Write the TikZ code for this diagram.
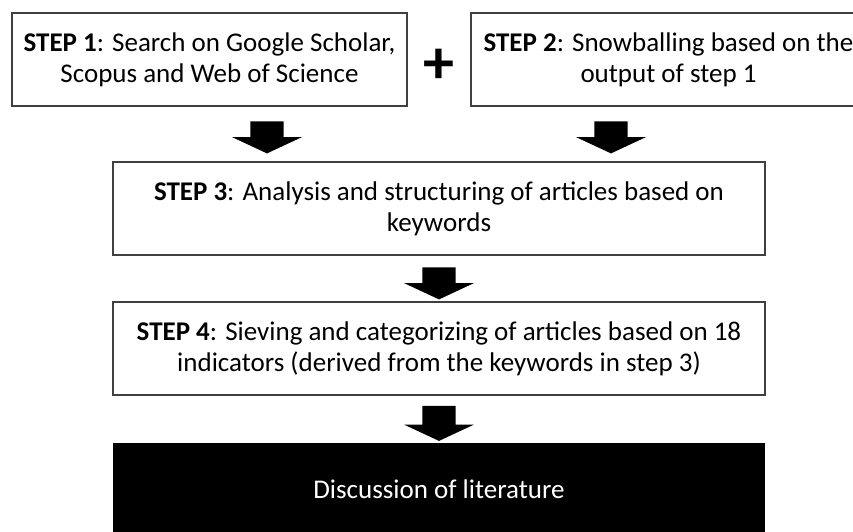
\documentclass[tikz,border=0pt]{standalone}
\usepackage{fontspec}
\setmainfont{Carlito}
\usetikzlibrary{shapes, arrows, positioning}
\tikzstyle{stepbox} = [rectangle, draw=black!75, line width=1.3pt, align=center, minimum width=652pt, minimum height=93pt]
\tikzstyle{sidebox} = [stepbox, minimum width=395pt]
\tikzstyle{result} = [rectangle, fill=black, text=white, align=center, minimum width=652pt, minimum height=93pt]
\tikzstyle{bigarrow} = [single arrow, fill=black, rotate=-90, minimum height=32pt, inner xsep=0pt, inner ysep=16.5pt, single arrow head extend=18pt, single arrow tip angle=130]

\begin{document}
\begin{tikzpicture}[x=1pt, y=1pt, node distance=140pt, font=\fontsize{27}{31}\selectfont]
    \useasboundingbox (-439,-322.5) rectangle (414,208.5);
    \clip (-439,-322.5) rectangle (414,208.5);

    \node [stepbox] (step3) at (0,0) {\textbf{STEP 3}: Analysis and structuring of articles based on\\ keywords};
    \node [sidebox] (step1) at (-229.5,149) {\textbf{STEP 1}: Search on Google Scholar,\\ Scopus and Web of Science};
    \node [sidebox] (step2) at (229.5,149) {\textbf{STEP 2}: Snowballing based on the\\ output of step 1};
    \node [font=\fontsize{62}{62}\selectfont\bfseries, inner sep=0pt] (plus) at (0,142) {+};
    \node [stepbox, below of=step3] (step4) {\textbf{STEP 4}: Sieving and categorizing of articles based on 18\\ indicators (derived from the keywords in step 3)};
    \node [result, below of=step4, node distance=141pt] (discussion) {Discussion of literature};

    % block arrows between the steps
    \node [bigarrow] (arr1) at (-172,75) {};
    \node [bigarrow] (arr2) at (172,75) {};
    \node [bigarrow] (arr3) at (0,-71) {};
    \node [bigarrow, minimum height=35pt] (arr4) at (0,-211) {};

\end{tikzpicture}
\end{document}
